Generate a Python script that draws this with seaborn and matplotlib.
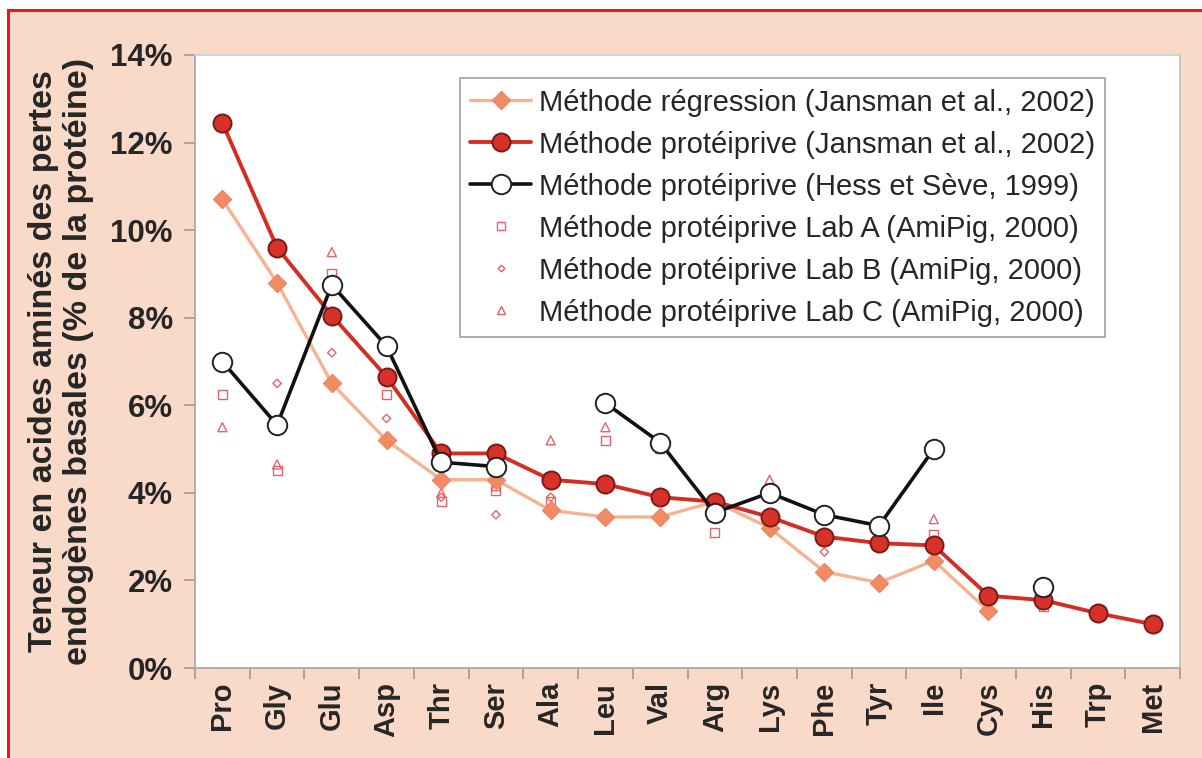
import numpy as np
import pandas as pd
import matplotlib
matplotlib.use("Agg")
import matplotlib.pyplot as plt
from matplotlib.lines import Line2D
from matplotlib.patches import Rectangle
from matplotlib.ticker import FixedLocator, PercentFormatter
import seaborn as sns

nan = np.nan
amino_acids = ["Pro", "Gly", "Glu", "Asp", "Thr", "Ser", "Ala", "Leu", "Val",
               "Arg", "Lys", "Phe", "Tyr", "Ile", "Cys", "His", "Trp", "Met"]
regression_jansman = [10.7, 8.8, 6.5, 5.2, 4.3, 4.3, 3.6, 3.45, 3.45, 3.8,
                      3.2, 2.2, 1.95, 2.45, 1.3, nan, nan, nan]
proteiprive_jansman = [12.45, 9.6, 8.05, 6.65, 4.9, 4.9, 4.3, 4.2, 3.9, 3.8,
                       3.45, 3.0, 2.85, 2.8, 1.65, 1.55, 1.25, 1.0]
proteiprive_hess = [7.0, 5.55, 8.75, 7.35, 4.7, 4.6, nan, 6.05, 5.15, 3.55,
                    4.0, 3.5, 3.25, 5.0, nan, 1.85, nan, nan]
lab_a = [6.25, 4.5, 9.0, 6.25, 3.8, 4.05, 3.8, 5.2, nan, 3.1,
         nan, 3.45, nan, 3.05, nan, 1.4, nan, nan]
lab_b = [nan, 6.5, 7.2, 5.7, 3.9, 3.5, 3.9, nan, nan, nan,
         nan, 2.65, nan, nan, nan, 1.5, nan, nan]
lab_c = [5.5, 4.65, 9.5, 7.4, 4.0, 4.15, 5.2, 5.5, 5.0, nan,
         4.3, nan, nan, 3.4, nan, 1.45, nan, nan]

labels = [
    "Méthode régression (Jansman et al., 2002)",
    "Méthode protéiprive (Jansman et al., 2002)",
    "Méthode protéiprive (Hess et Sève, 1999)",
    "Méthode protéiprive Lab A (AmiPig, 2000)",
    "Méthode protéiprive Lab B (AmiPig, 2000)",
    "Méthode protéiprive Lab C (AmiPig, 2000)",
]

sns.set_style("white")
plt.rcParams["font.family"] = ["Liberation Sans", "DejaVu Sans"]

PEACH = "#F9D9C7"
fig = plt.figure(figsize=(12.02, 7.58), dpi=100, facecolor="white")
fig.patches.append(Rectangle((8 / 1202, -0.1), 1.2, 1.1 - 10 / 758,
                             transform=fig.transFigure, facecolor=PEACH,
                             edgecolor="#E8141E", linewidth=2.2, zorder=-10))
ax = fig.add_axes([195 / 1202, 1 - 668 / 758, 985 / 1202, 613 / 758])
ax.set_facecolor("white")

x_idx = np.arange(len(amino_acids))


def segments(values):
    rows = []
    seg = 0
    prev_nan = True
    for i, v in enumerate(values):
        if np.isnan(v):
            prev_nan = True
            continue
        if prev_nan:
            seg += 1
        prev_nan = False
        rows.append({"x": i, "y": v, "seg": seg})
    return pd.DataFrame(rows)


styles = [
    (regression_jansman, dict(color="#F5B393", linewidth=2.4, marker="D",
                              markersize=9, markerfacecolor="#F28A62",
                              markeredgecolor="#E8876A", markeredgewidth=1.0), 3),
    (proteiprive_jansman, dict(color="#D42E24", linewidth=2.8, marker="o",
                               markersize=13, markerfacecolor="#D7322A",
                               markeredgecolor="#7A1A14", markeredgewidth=1.4), 4),
    (proteiprive_hess, dict(color="#111111", linewidth=2.6, marker="o",
                            markersize=14, markerfacecolor="white",
                            markeredgecolor="#222222", markeredgewidth=1.4), 5),
]

for values, kw, z in styles:
    df = segments(values)
    sns.lineplot(data=df, x="x", y="y", units="seg", estimator=None, ax=ax,
                 sort=False, legend=False, zorder=z, **kw)

lab_specs = [(lab_a, "s", 42), (lab_b, "D", 18), (lab_c, "^", 42)]
for values, mk, sz in lab_specs:
    df = pd.DataFrame({"x": x_idx, "y": values}).dropna()
    sns.scatterplot(data=df, x="x", y="y", ax=ax, marker=mk, s=sz,
                    facecolor="none", edgecolor="#E2646A", linewidth=1.0,
                    legend=False, zorder=2)

ax.set_xlim(-0.5, len(amino_acids) - 0.5)
ax.set_ylim(0, 14)
ax.set_xticks(x_idx)
ax.set_xticklabels(amino_acids, rotation=90, fontsize=21, fontweight="bold")
ax.xaxis.set_minor_locator(FixedLocator(np.arange(-0.5, len(amino_acids), 1.0)))
ax.tick_params(axis="x", which="major", length=0, pad=10)
ax.tick_params(axis="x", which="minor", length=8, width=1.2, color="#9A9A9A",
               direction="out", bottom=True)
ax.set_yticks(np.arange(0, 15, 2))
ax.yaxis.set_major_formatter(PercentFormatter(decimals=0))
ax.tick_params(axis="y", which="major", length=8, width=1.2, color="#9A9A9A",
               direction="out", left=True, labelsize=22.5, pad=8)
for lab in ax.get_yticklabels():
    lab.set_fontweight("bold")
ax.set_xlabel("")
ax.set_ylabel("Teneur en acides aminés des pertes\nendogènes basales (% de la protéine)",
              fontsize=24.5, fontweight="bold", labelpad=12, linespacing=1.15)

for side, sp in ax.spines.items():
    sp.set_visible(True)
    sp.set_color("#A8A8A8")
    sp.set_linewidth(1.3)
ax.spines["top"].set_color("#D0D0D0")
ax.spines["right"].set_color("#C8C0BC")

handles = []
for values, kw, z in styles:
    handles.append(Line2D([], [], **kw))
for values, mk, sz in lab_specs:
    handles.append(Line2D([], [], linestyle="none", marker=mk,
                          markersize=np.sqrt(sz) * 0.8,
                          markerfacecolor="none", markeredgecolor="#E2646A",
                          markeredgewidth=1.0))
leg = ax.legend(handles, labels, loc="upper left", bbox_to_anchor=(0.269, 0.962),
                fontsize=21, frameon=True, fancybox=False, framealpha=1,
                edgecolor="#A0A0A0", handlelength=2.1, handletextpad=0.25,
                labelspacing=0.48, borderpad=0.35, borderaxespad=0)
leg.get_frame().set_linewidth(1.2)
leg.set_zorder(10)

fig.savefig("out.png", dpi=100, facecolor=fig.get_facecolor())
